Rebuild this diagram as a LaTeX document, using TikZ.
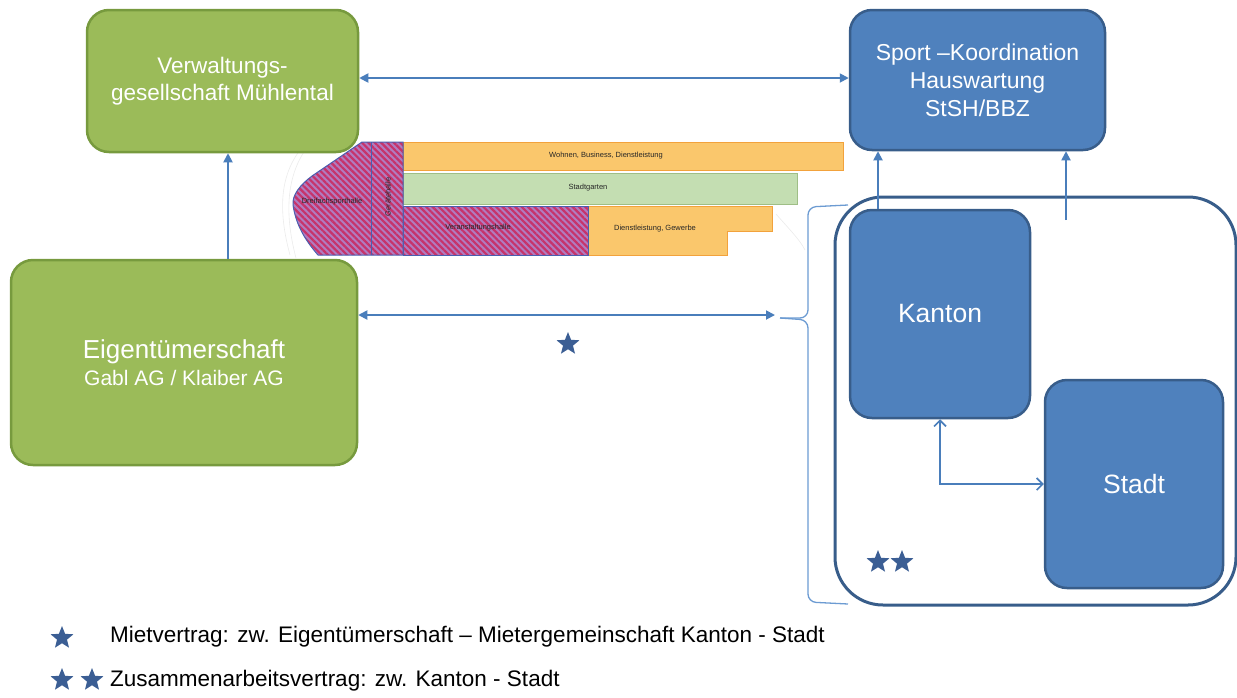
\documentclass[tikz,border=0pt]{standalone}
\usepackage{fontspec}
\setmainfont{Liberation Sans}
\usetikzlibrary{arrows.meta,shapes.geometric,patterns.meta}
\definecolor{grfill}{HTML}{9BBB59}
\definecolor{grline}{HTML}{779A3E}
\definecolor{blfill}{HTML}{4F81BD}
\definecolor{blline}{HTML}{385D8A}
\definecolor{arrblue}{HTML}{4A7EBB}
\definecolor{braceblue}{HTML}{6C9BD2}
\definecolor{starblue}{HTML}{3B5E94}
\definecolor{orfill}{HTML}{FAC76C}
\definecolor{orline}{HTML}{F2A23C}
\definecolor{gtfill}{HTML}{C4DEB2}
\definecolor{gtline}{HTML}{9FBE86}
\definecolor{hatchbg}{HTML}{B07CC0}
\definecolor{hatchln}{HTML}{C7336A}
\definecolor{hatchedge}{HTML}{4A5FB0}
\begin{document}
\begin{tikzpicture}[x=1pt,y=-1pt,
 box/.style={draw,line width=2.5pt,rounded corners=22pt,text=white,align=center,inner sep=0pt},
 grbox/.style={box,draw=grline,fill=grfill},
 blbox/.style={box,draw=blline,fill=blfill},
 link/.style={draw=arrblue,line width=1.8pt},
 tri/.tip={Triangle[length=9pt,width=9pt]},
 barb/.tip={Straight Barb[length=6pt,width=12pt,line width=1.6pt]},
 hatched/.style={preaction={fill=hatchbg},pattern={Lines[angle=-45,distance=4.5pt,line width=2.2pt]},pattern color=hatchln},
 tiny/.style={font=\fontsize{7.5}{8}\selectfont,text=black!85,inner sep=0pt},
 onestar/.style={star,star points=5,star point ratio=2.3,fill=starblue,minimum size=24pt,inner sep=0pt},
 legend/.style={anchor=west,font=\fontsize{22.5}{26}\selectfont,inner sep=0pt}]
\useasboundingbox (0,0) rectangle (1237,697);
\draw[black!8,line width=0.6pt] (300,150) .. controls (285,170) and (275,200) .. (290,255);
\draw[black!8,line width=0.6pt] (308,146) .. controls (290,170) and (282,205) .. (296,258);
\draw[black!8,line width=0.6pt] (776,214) .. controls (790,230) and (800,240) .. (805,250);
\fill[orfill,draw=orline,line width=1pt] (403,142) rectangle (843,170);
\fill[gtfill,draw=gtline,line width=1pt] (403,173) rectangle (797,204);
\fill[orfill,draw=orline,line width=1pt] (588,206) -- (772,206) -- (772,231) -- (727,231) -- (727,255) -- (588,255) -- cycle;
\path[hatched,draw=hatchedge,line width=1pt] (403,206) rectangle (588,255);
\path[hatched,draw=hatchedge,line width=1pt] (362,142) -- (403,142) -- (403,255) -- (318,255) .. controls (305,240) and (296,225) .. (293,205) .. controls (292,195) and (300,185) .. (312,176) -- cycle;
\draw[hatchedge,line width=1pt] (371,142) -- (371,255);
\node[tiny] (wohnen) at (606,156) {Wohnen, Business, Dienstleistung};
\node[tiny] (garten) at (588,188) {Stadtgarten};
\node[tiny] (halle) at (478,228) {Veranstaltungshalle};
\node[tiny] (dienst) at (655,229) {Dienstleistung, Gewerbe};
\node[tiny] (dreifach) at (332,202) {Dreifachsporthalle};
\node[tiny,rotate=90] (geraete) at (388,197) {Gerätehalle};
\node[grbox,minimum width=271pt,minimum height=142pt,font=\fontsize{22.5}{27}\selectfont] (verw) at (222.5,81) {Verwaltungs-\\gesellschaft Mühlental};
\node[blbox,minimum width=255pt,minimum height=140pt,font=\fontsize{23}{28}\selectfont] (sport) at (977.5,80) {Sport --Koordination\\Hauswartung\\StSH/BBZ};
\node[grbox,minimum width=346pt,minimum height=205pt] (eigen) at (184,362.5) {{\fontsize{26}{28}\selectfont Eigentümerschaft}\\[5pt]{\fontsize{21}{29}\selectfont Gabl AG / Klaiber AG}};
\draw[blline,line width=3pt,rounded corners=48pt] (835,197) rectangle (1236,605);
\node[blbox,minimum width=180pt,minimum height=208pt,font=\fontsize{26.5}{30}\selectfont] (kanton) at (940,314) {Kanton};
\node[blbox,minimum width=178pt,minimum height=208pt,font=\fontsize{26.5}{30}\selectfont] (stadt) at (1134,484) {Stadt};
\coordinate (mietend) at (775,315);
\coordinate (hausw) at (1066,220);
\draw[link,tri-tri] (verw.east|-0,78) -- (sport.west|-0,78);
\draw[link,-tri] (eigen.north-|228,0) -- (verw.south-|228,0);
\draw[link,tri-tri] (eigen.east|-mietend) -- (mietend);
\draw[link,-tri] ([xshift=-62pt]kanton.north) -- ([xshift=-62pt]kanton.north|-sport.south);
\draw[link,-tri] (hausw) -- (hausw|-sport.south);
\draw[arrblue,line width=1.5pt,barb-barb] (kanton.south) |- (stadt.west);
\draw[braceblue,line width=1.3pt,rounded corners=8pt] (848,205) -- (808,207) -- (808,318) -- (780,318);
\draw[braceblue,line width=1.3pt,rounded corners=8pt] (780,318) -- (808,320) -- (808,602) -- (848,604);
\node[onestar] (st1) at (568,344) {};
\node[onestar] (st2a) at (878,562) {};
\node[onestar] (st2b) at (902,562) {};
\node[onestar] (lg1) at (62,638) {};
\node[onestar] (lg2a) at (62,680) {};
\node[onestar] (lg2b) at (92,680) {};
\node[legend] (miete) at (110,637) {Mietvertrag: zw. Eigentümerschaft -- Mietergemeinschaft Kanton - Stadt};
\node[legend] (zusam) at (110,681) {Zusammenarbeitsvertrag: zw. Kanton - Stadt};
\end{tikzpicture}
\end{document}
